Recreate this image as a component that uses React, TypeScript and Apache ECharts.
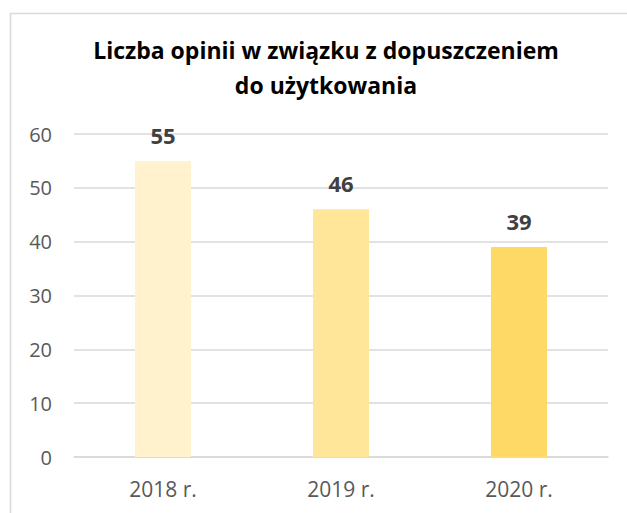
import React, { useEffect, useRef } from "react";
import * as echarts from "echarts";

const categories = ["2018 r.", "2019 r.", "2020 r."];
const values = [55, 46, 39];
const barColors = ["#FFF2CC", "#FFE699", "#FFD966"];
const titleText = "Liczba opinii w związku z dopuszczeniem\ndo użytkowania";

export default function App() {
  const ref = useRef<HTMLDivElement>(null);
  useEffect(() => {
    document.body.style.margin = "0";
    const chart = echarts.init(ref.current!, null, { renderer: "svg" });
    const font = "'Open Sans', sans-serif";
    chart.setOption({
      animation: false,
      title: {
        text: titleText,
        left: 321,
        textAlign: "center",
        top: 27,
        textStyle: { fontFamily: font, fontSize: 23, fontWeight: "bold", color: "#000", lineHeight: 35 },
      },
      graphic: [
        {
          type: "rect",
          shape: { x: 10.5, y: 13.5, width: 700, height: 600 },
          style: { fill: "none", stroke: "#D9D9D9", lineWidth: 1.5 },
          silent: true,
        },
      ],
      grid: { left: 74, right: 19, top: 134, bottom: 56, containLabel: false },
      xAxis: {
        type: "category",
        data: categories,
        axisLine: { lineStyle: { color: "#D9D9D9", width: 1.5 } },
        axisTick: { show: false },
        axisLabel: { color: "#595959", fontSize: 21, fontFamily: font, margin: 21 },
      },
      yAxis: {
        type: "value",
        min: 0,
        max: 60,
        interval: 10,
        axisLine: { show: false },
        axisTick: { show: false },
        splitLine: { lineStyle: { color: "#D9D9D9", width: 1.5 } },
        axisLabel: { color: "#595959", fontSize: 20, fontFamily: font, margin: 22 },
      },
      series: [
        {
          type: "bar",
          barWidth: "31.5%",
          data: values.map((v, i) => ({ value: v, itemStyle: { color: barColors[i] } })),
          label: {
            show: true,
            position: "top",
            distance: 15,
            color: "#404040",
            fontSize: 22,
            fontWeight: "bold",
            fontFamily: font,
          },
        },
      ],
    });
    return () => chart.dispose();
  }, []);
  return <div ref={ref} style={{ width: 627, height: 513 }} />;
}
